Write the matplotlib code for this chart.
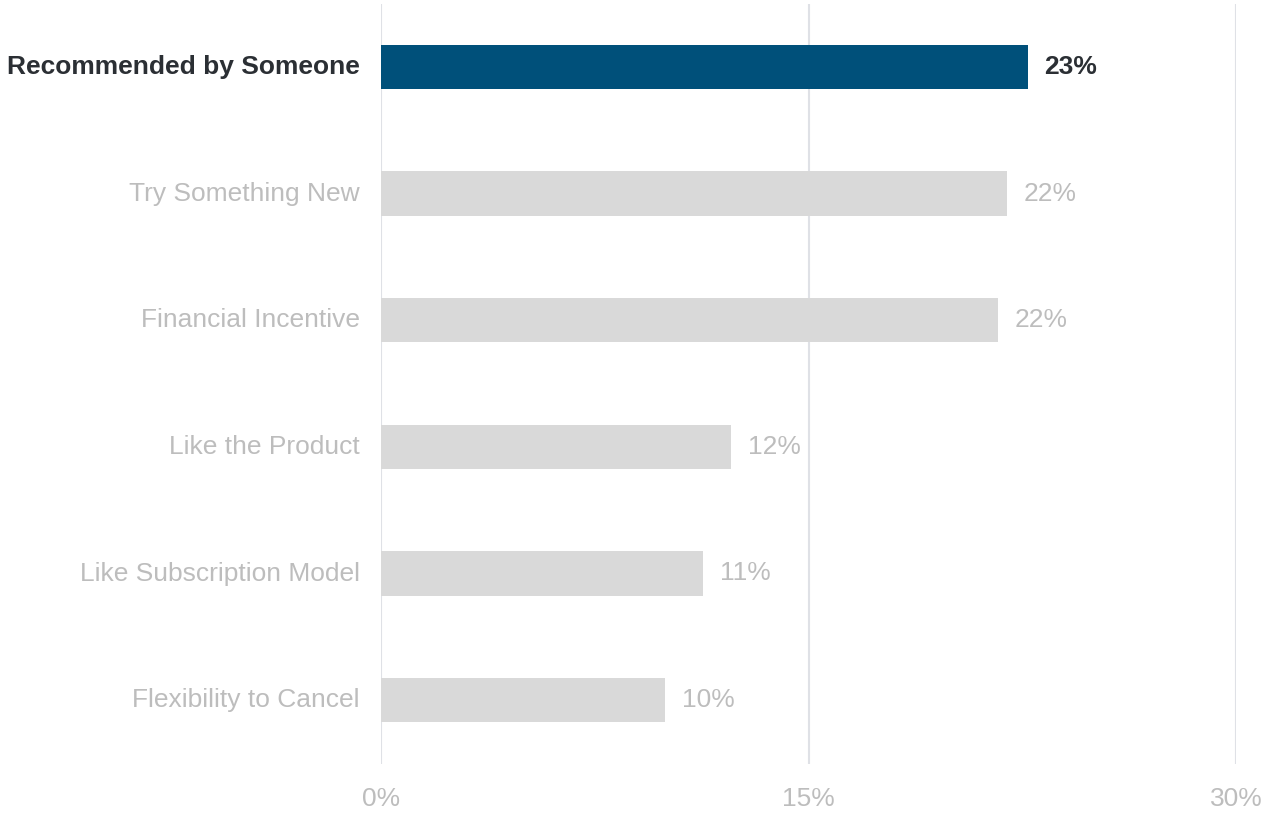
import matplotlib
matplotlib.use("Agg")
import matplotlib.pyplot as plt
from matplotlib.ticker import FuncFormatter

categories = [
    "Recommended by Someone",
    "Try Something New",
    "Financial Incentive",
    "Like the Product",
    "Like Subscription Model",
    "Flexibility to Cancel",
]
values = [22.7, 21.96, 21.65, 12.28, 11.3, 9.96]
highlight = 0
x_ticks = [0, 15, 30]

plt.rcParams["font.family"] = ["Liberation Sans", "DejaVu Sans"]

DARK_BLUE = "#00507a"
BAR_GREY = "#d9d9d9"
TEXT_GREY = "#bdbdbd"
TEXT_DARK = "#2b2f34"
GRID = "#dfe1e6"
FS = 19

fig = plt.figure(figsize=(12.68, 8.15), dpi=100)
ax = fig.add_axes([381 / 1268, 1 - 763.5 / 815, (1236 - 381) / 1268, 760 / 815])

ypos = list(range(len(categories)))
colors = [DARK_BLUE if i == highlight else BAR_GREY for i in ypos]
ax.barh(ypos, values, height=0.35, color=colors, zorder=2)

ax.set_xlim(0, 30)
ax.set_ylim(len(categories) - 0.5, -0.5)
ax.set_xticks(x_ticks)
ax.xaxis.set_major_formatter(FuncFormatter(lambda v, p: f"{v:.0f}%"))
ax.tick_params(axis="x", length=0, pad=17, labelsize=FS, labelcolor=TEXT_GREY)
ax.set_yticks([])
for s in ax.spines.values():
    s.set_visible(False)
ax.grid(axis="x", color=GRID, linewidth=1.5, zorder=0)
ax.set_axisbelow(True)

for i, (cat, v) in enumerate(zip(categories, values)):
    hl = i == highlight
    weight = "bold" if hl else "normal"
    col = TEXT_DARK if hl else TEXT_GREY
    ax.annotate(cat, xy=(0, i), xytext=(-21, 0), textcoords="offset pixels",
                ha="right", va="center", fontsize=FS, fontweight=weight, color=col)
    ax.annotate(f"{v:.0f}%", xy=(v, i), xytext=(16 if hl else 17, 0),
                textcoords="offset pixels", ha="left", va="center",
                fontsize=FS, fontweight=weight, color=col)

fig.savefig("out.png", dpi=100, facecolor="white")
